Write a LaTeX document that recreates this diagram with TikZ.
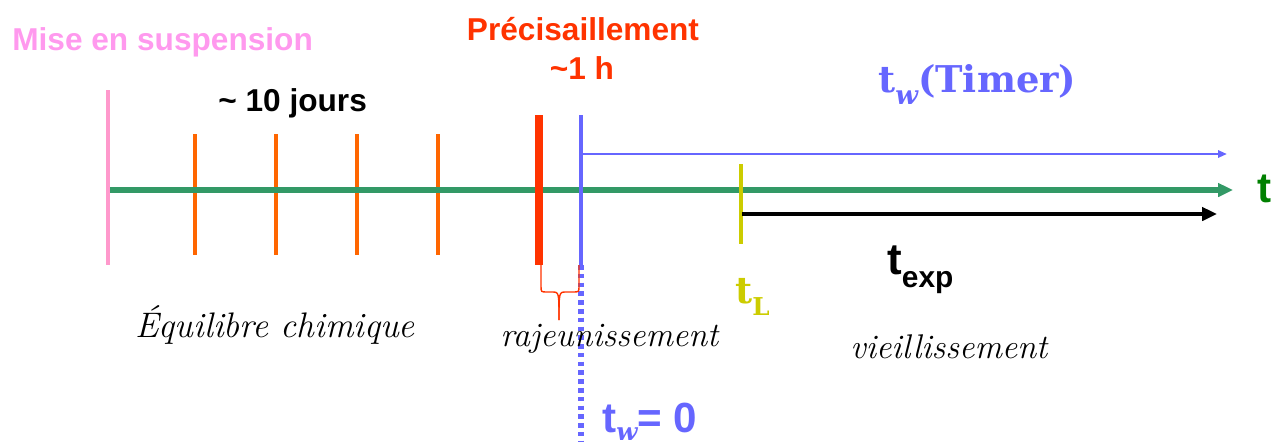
\documentclass[tikz,border=0pt]{standalone}
\usepackage{fontspec}
\usetikzlibrary{arrows.meta}
\newfontfamily\sansb{Liberation Sans}
\newfontfamily\serifb{DejaVu Serif}
\definecolor{cpink}{HTML}{FF99EE}
\definecolor{cpinkline}{HTML}{FF99CC}
\definecolor{cgreen}{HTML}{339966}
\definecolor{cdgreen}{HTML}{008000}
\definecolor{corange}{HTML}{FF6600}
\definecolor{cred}{HTML}{FF3300}
\definecolor{cblue}{HTML}{6666FF}
\definecolor{cyellow}{HTML}{CCCC00}
\tikzset{
  sanslbl/.style={inner sep=0pt, font=\sansb\bfseries\fontsize{18}{20}\selectfont},
  itlbl/.style={inner sep=0pt, font=\itshape\fontsize{19.5}{22}\selectfont},
  tick/.style={draw=corange, line width=2.1pt},
}
\begin{document}
\begin{tikzpicture}[x=0.02cm,y=-0.02cm]
\useasboundingbox (0,0) rectangle (1271,444);
% coordinates
\coordinate (a0) at (110,190);
\coordinate (a1) at (1233,190);
\coordinate (p0) at (108,90);
\coordinate (p1) at (108,265);
\coordinate (r0) at (539,115);
\coordinate (r1) at (539,265);
\coordinate (b0) at (581,115);
\coordinate (b1) at (581,265);
\coordinate (b2) at (581,442);
\coordinate (ba) at (581,154);
\coordinate (bb) at (1227,154);
\coordinate (y0) at (741,164);
\coordinate (y1) at (741,244);
\coordinate (k0) at (742,214);
\coordinate (k1) at (1217,214);
% pink start line
\draw[cpinkline, line width=1.8pt] (p0) -- (p1);
% orange ticks
\foreach \x [count=\i] in {195,276,357,438}{
  \coordinate (o\i a) at (\x,134);
  \coordinate (o\i b) at (\x,255);
  \draw[tick] (o\i a) -- (o\i b);
}
% main axis
\draw[cgreen, line width=3.1pt, -{Triangle[length=8.5pt,width=7.5pt]}] (a0) -- (a1);
% blue timer arrow
\draw[cblue, line width=1.3pt, -{Triangle[length=5pt,width=4pt]}] (ba) -- (bb);
% red thick bar
\draw[cred, line width=4.2pt] (r0) -- (r1);
% blue bar and dotted continuation
\draw[cblue, line width=2.6pt] (b0) -- (b1);
\draw[cblue, line width=3.2pt, dash pattern=on 2.6pt off 2.4pt] (b1) -- (b2);
% yellow tick
\draw[cyellow, line width=2.5pt] (y0) -- (y1);
% black exp arrow
\draw[black, line width=2.4pt, -{Triangle[length=8.5pt,width=7.5pt]}] (k0) -- (k1);
% brace
\coordinate (br0) at (541,265);
\coordinate (br1) at (579,265);
\coordinate (brt) at (559,320);
\draw[cred, line width=0.8pt]
  (br0) -- (541,286) .. controls (541,292) .. (547,292) -- (552,292)
  .. controls (559,292) .. (brt);
\draw[cred, line width=0.8pt]
  (br1) -- (579,286) .. controls (579,292) .. (573,292) -- (566,292)
  .. controls (559,292) .. (brt);
% labels
\node[sanslbl, text=cpink, anchor=base west] (mise) at (12,50) {Mise en suspension};
\node[sanslbl, anchor=base west] (jours) at (218,111) {\textasciitilde\ 10 jours};
\node[sanslbl, text=cred, anchor=base] (prec) at (583,40) {Précisaillement};
\node[sanslbl, text=cred, anchor=base] (heure) at (582,79) {\textasciitilde1 h};
\node[inner sep=0pt, anchor=base west, text=cblue, font=\serifb\bfseries\fontsize{21}{24}\selectfont] (timer) at (878,92)
  {t\raisebox{-0.35em}{\fontsize{15}{16}\selectfont\itshape w}(Timer)};
\node[inner sep=0pt, anchor=base west, text=cdgreen, font=\sansb\bfseries\fontsize{24}{26}\selectfont] (tlab) at (1257,202) {t};
\node[inner sep=0pt, anchor=base west, font=\sansb\bfseries\fontsize{25}{27}\selectfont] (texp) at (887,274)
  {t\raisebox{-0.3em}{\fontsize{17}{18}\selectfont exp}};
\node[inner sep=0pt, anchor=base west, text=cyellow, font=\serifb\bfseries\fontsize{21}{24}\selectfont] (tL) at (735,303)
  {t\raisebox{-0.35em}{\fontsize{14}{15}\selectfont L}};
\node[itlbl, anchor=base west, font=\itshape\fontsize{20.2}{23}\selectfont] (equi) at (135,337) {Équilibre chimique};
\node[itlbl, anchor=base west] (raj) at (500,346) {rajeunissement};
\node[itlbl, anchor=base west] (vieil) at (850,358) {vieillissement};
\node[inner sep=0pt, anchor=base west, text=cblue, font=\sansb\bfseries\fontsize{24}{26}\selectfont] (tw0) at (602,432)
  {t\raisebox{-0.2em}{\fontsize{14}{15}\selectfont\serifb\itshape w}= 0};
\end{tikzpicture}
\end{document}
